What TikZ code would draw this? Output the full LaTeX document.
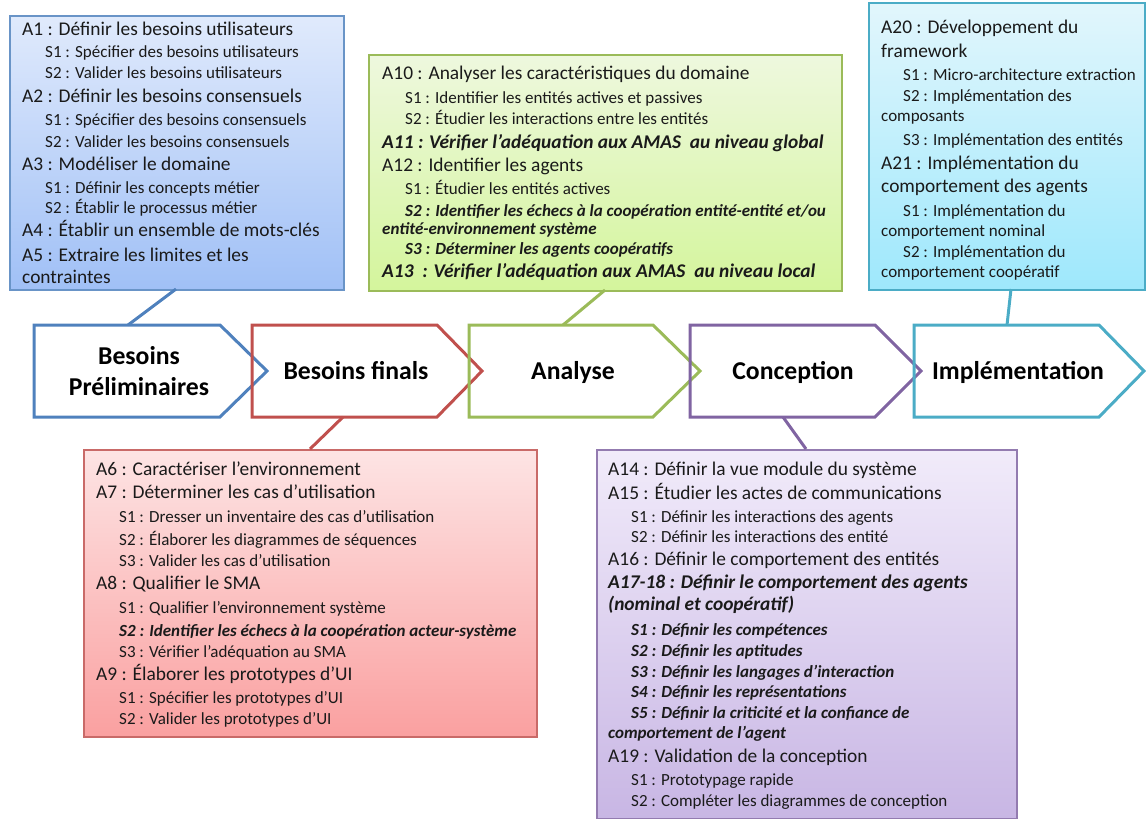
\documentclass[tikz,border=0pt]{standalone}
\usepackage{fontspec}
\setmainfont{Carlito}
\definecolor{txt}{HTML}{1A1A1A}
\definecolor{bluA}{HTML}{4F81BD}
\definecolor{redA}{HTML}{C0504D}
\definecolor{grnA}{HTML}{9BBB59}
\definecolor{purA}{HTML}{8064A2}
\definecolor{cyaA}{HTML}{4BACC6}
\definecolor{bluT}{RGB}{224,234,252}
\definecolor{bluB}{RGB}{160,192,246}
\definecolor{grnT}{RGB}{238,248,222}
\definecolor{grnB}{RGB}{212,245,156}
\definecolor{cyaT}{RGB}{226,246,252}
\definecolor{cyaB}{RGB}{158,232,252}
\definecolor{redT}{RGB}{253,228,228}
\definecolor{redB}{RGB}{250,160,160}
\definecolor{purT}{RGB}{241,235,250}
\definecolor{purB}{RGB}{200,182,228}
\begin{document}
\begin{tikzpicture}[x=1pt,y=-1pt,
  mainln/.style={anchor=base west, inner sep=0pt, text=txt, font=\fontsize{19.4}{22}\selectfont},
  subln/.style={anchor=base west, inner sep=0pt, text=txt, font=\fontsize{17}{19}\selectfont},
  mainbi/.style={mainln, font=\fontsize{19.4}{22}\selectfont\bfseries\itshape},
  subbi/.style={subln, font=\fontsize{17}{19}\selectfont\bfseries\itshape},
  phase/.style={anchor=base, inner sep=0pt, text=black, font=\fontsize{25.7}{28}\selectfont\bfseries},
  panel/.style={rectangle, anchor=north west, inner sep=0pt, line width=1.6pt},
  chevron/.style={line width=3pt, line join=miter},
  link/.style={line width=3pt}]
\useasboundingbox (0,0) rectangle (1146,819);

% activity panels
\node[panel, draw=bluA!85, top color=bluT, bottom color=bluB, minimum width=334pt, minimum height=274pt] (pblue) at (9,15) {};
\node[panel, draw=grnA, top color=grnT, bottom color=grnB, minimum width=473pt, minimum height=236pt] (pgreen) at (368,54) {};
\node[panel, draw=cyaA, top color=cyaT, bottom color=cyaB, minimum width=276pt, minimum height=287pt] (pcyan) at (868,2) {};
\node[panel, draw=redA!85, top color=redT, bottom color=redB, minimum width=453pt, minimum height=287pt] (pred) at (83,449) {};
\node[panel, draw=purA!85, top color=purT, bottom color=purB, minimum width=420pt, minimum height=369pt] (ppurple) at (596,449) {};

% phase chevrons
\draw[chevron, draw=bluA] (34,325) -- (220,325) -- (267,371) -- (220,417) -- (34,417) -- cycle;
\draw[chevron, draw=redA] (252,325) -- (437,325) -- (482,371) -- (437,417) -- (252,417) -- cycle;
\draw[chevron, draw=grnA] (469,325) -- (653,325) -- (700,371) -- (653,417) -- (469,417) -- cycle;
\draw[chevron, draw=purA] (690,325) -- (875,325) -- (921,371) -- (875,417) -- (690,417) -- cycle;
\draw[chevron, draw=cyaA] (914,325) -- (1099,325) -- (1144,371) -- (1099,417) -- (914,417) -- cycle;

\node[phase] (ph1a) at (139,364) {Besoins};
\node[phase] (ph1b) at (139,395) {Préliminaires};
\node[phase] (ph2) at (356,379) {Besoins finals};
\node[phase] (ph3) at (573,379) {Analyse};
\node[phase] (ph4) at (793,379) {Conception};
\node[phase] (ph5) at (1018,379) {Implémentation};

% links between panels and chevrons
\coordinate (k1a) at (176,289); \coordinate (k1b) at (128,325);
\coordinate (k2a) at (343,417); \coordinate (k2b) at (310,449);
\coordinate (k3a) at (605,290); \coordinate (k3b) at (563,325);
\coordinate (k4a) at (783,417); \coordinate (k4b) at (806,449);
\coordinate (k5a) at (1011,289); \coordinate (k5b) at (1007,325);
\draw[link, draw=bluA] (k1a) -- (k1b);
\draw[link, draw=redA] (k2a) -- (k2b);
\draw[link, draw=grnA] (k3a) -- (k3b);
\draw[link, draw=purA] (k4a) -- (k4b);
\draw[link, draw=cyaA] (k5a) -- (k5b);

% Besoins préliminaires
\node[mainln] (b1) at (22,35) {A1 : Définir les besoins utilisateurs};
\node[subln] (b2) at (45,57) {S1 : Spécifier des besoins utilisateurs};
\node[subln] (b3) at (45,78) {S2 : Valider les besoins utilisateurs};
\node[mainln] (b4) at (22,102) {A2 : Définir les besoins consensuels};
\node[subln] (b5) at (45,125) {S1 : Spécifier des besoins consensuels};
\node[subln] (b6) at (45,147) {S2 : Valider les besoins consensuels};
\node[mainln] (b7) at (22,170) {A3 : Modéliser le domaine};
\node[subln] (b8) at (45,193) {S1 : Définir les concepts métier};
\node[subln] (b9) at (45,213) {S2 : Établir le processus métier};
\node[mainln] (b10) at (22,236) {A4 : Établir un ensemble de mots-clés};
\node[mainln] (b11) at (22,261) {A5 : Extraire les limites et les};
\node[mainln] (b12) at (22,283) {contraintes};

% Analyse
\node[mainln] (g1) at (382,79) {A10 : Analyser les caractéristiques du domaine};
\node[subln] (g2) at (405,103) {S1 : Identifier les entités actives et passives};
\node[subln] (g3) at (405,124) {S2 : Étudier les interactions entre les entités};
\node[mainbi] (g4) at (382,148) {A11 : Vérifier l’adéquation aux AMAS\ \ au niveau global};
\node[mainln] (g5) at (382,171) {A12 : Identifier les agents};
\node[subln] (g6) at (405,194) {S1 : Étudier les entités actives};
\node[subbi] (g7) at (405,216) {S2 : Identifier les échecs à la coopération entité-entité et/ou};
\node[subbi] (g8) at (382,234) {entité-environnement système};
\node[subbi] (g9) at (405,254) {S3 : Déterminer les agents coopératifs};
\node[mainbi] (g10) at (382,277) {A13\ \ : Vérifier l’adéquation aux AMAS\ \ au niveau local};

% Implémentation
\node[mainln] (c1) at (881,33) {A20 : Développement du};
\node[mainln] (c2) at (881,57) {framework};
\node[subln] (c3) at (903,80) {S1 : Micro-architecture extraction};
\node[subln] (c4) at (903,101) {S2 : Implémentation des};
\node[subln] (c5) at (881,121) {composants};
\node[subln] (c6) at (903,145) {S3 : Implémentation des entités};
\node[mainln] (c7) at (881,169) {A21 : Implémentation du};
\node[mainln] (c8) at (881,192) {comportement des agents};
\node[subln] (c9) at (903,216) {S1 : Implémentation du};
\node[subln] (c10) at (881,236) {comportement nominal};
\node[subln] (c11) at (903,257) {S2 : Implémentation du};
\node[subln] (c12) at (881,277) {comportement coopératif};

% Besoins finals
\node[mainln] (r1) at (96,475) {A6 : Caractériser l’environnement};
\node[mainln] (r2) at (96,498) {A7 : Déterminer les cas d’utilisation};
\node[subln] (r3) at (119,522) {S1 : Dresser un inventaire des cas d’utilisation};
\node[subln] (r4) at (119,545) {S2 : Élaborer les diagrammes de séquences};
\node[subln] (r5) at (119,566) {S3 : Valider les cas d’utilisation};
\node[mainln] (r6) at (96,589) {A8 : Qualifier le SMA};
\node[subln] (r7) at (119,613) {S1 : Qualifier l’environnement système};
\node[subbi] (r8) at (119,636) {S2 : Identifier les échecs à la coopération acteur-système};
\node[subln] (r9) at (119,657) {S3 : Vérifier l’adéquation au SMA};
\node[mainln] (r10) at (96,680) {A9 : Élaborer les prototypes d’UI};
\node[subln] (r11) at (119,703) {S1 : Spécifier les prototypes d’UI};
\node[subln] (r12) at (119,724) {S2 : Valider les prototypes d’UI};

% Conception
\node[mainln] (p1) at (608,475) {A14 : Définir la vue module du système};
\node[mainln] (p2) at (608,499) {A15 : Étudier les actes de communications};
\node[subln] (p3) at (631,522) {S1 : Définir les interactions des agents};
\node[subln] (p4) at (631,542) {S2 : Définir les interactions des entité};
\node[mainln] (p5) at (608,565) {A16 : Définir le comportement des entités};
\node[mainbi] (p6) at (608,588) {A17-18 : Définir le comportement des agents};
\node[mainbi] (p7) at (608,610) {(nominal et coopératif)};
\node[subbi] (p8) at (631,635) {S1 : Définir les compétences};
\node[subbi] (p9) at (631,656) {S2 : Définir les aptitudes};
\node[subbi] (p10) at (631,677) {S3 : Définir les langages d’interaction};
\node[subbi] (p11) at (631,697) {S4 : Définir les représentations};
\node[subbi] (p12) at (631,718) {S5 : Définir la criticité et la confiance de};
\node[subbi] (p13) at (608,738) {comportement de l’agent};
\node[mainln] (p14) at (608,762) {A19 : Validation de la conception};
\node[subln] (p15) at (631,785) {S1 : Prototypage rapide};
\node[subln] (p16) at (631,806) {S2 : Compléter les diagrammes de conception};
\end{tikzpicture}
\end{document}
